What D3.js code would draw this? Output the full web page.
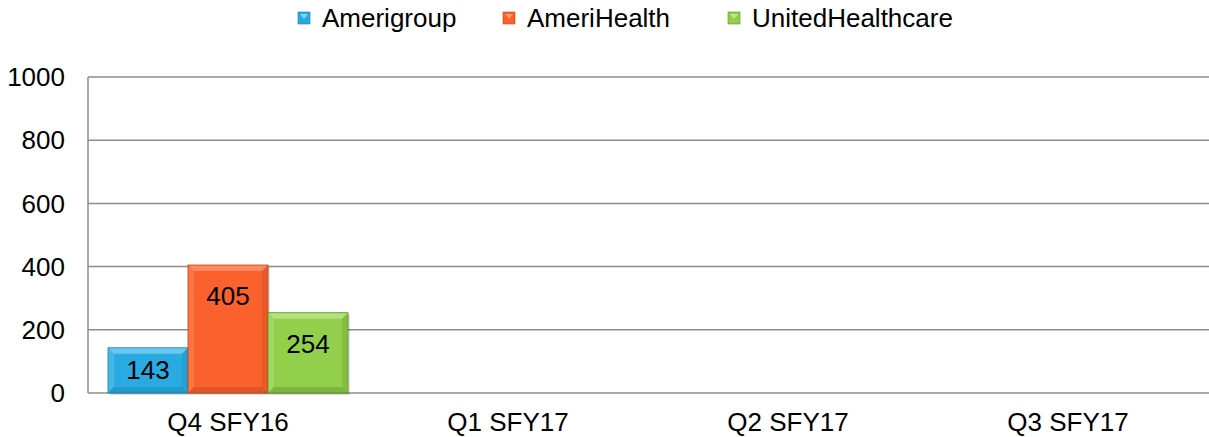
<!DOCTYPE html>
<html>
<head>
<meta charset="utf-8">
<script src="https://cdn.jsdelivr.net/npm/d3@7"></script>
<style>
  body { margin: 0; background: #fff; }
  text { font-family: "Liberation Sans", Arial, sans-serif; }
</style>
</head>
<body>
<svg id="chart" width="1209" height="437"></svg>
<script>
// data
var categories = ["Q4 SFY16", "Q1 SFY17", "Q2 SFY17", "Q3 SFY17"];
var seriesNames = ["Amerigroup", "AmeriHealth", "UnitedHealthcare"];
var amerigroup = [143, null, null, null];
var amerihealth = [405, null, null, null];
var united = [254, null, null, null];
var yTicks = [0, 200, 400, 600, 800, 1000];

var colors = ["#29ABE2", "#FA612C", "#92CF4A"];
var light = ["#7FD0F2", "#FF9A6E", "#C0E590"];
var dark = ["#1A7FAB", "#B8441D", "#5E8E2A"];

var seriesVals = [amerigroup, amerihealth, united];

var svg = d3.select("#chart");
var margin = {left: 88, right: 1, top: 77, bottom: 44};
var W = 1209, H = 437;
var fs = 26;

var x = d3.scaleBand().domain(categories)
    .range([margin.left, W - margin.right]).paddingInner(0).paddingOuter(0);
var y = d3.scaleLinear().domain([0, 1000]).range([H - margin.bottom, margin.top]);

// gridlines
svg.append("g").selectAll("line").data(yTicks).enter().append("line")
    .attr("x1", margin.left).attr("x2", W)
    .attr("y1", function(d) { return y(d); }).attr("y2", function(d) { return y(d); })
    .attr("stroke", "#8c8c8c").attr("stroke-width", 1.5);

// y axis line
svg.append("line")
    .attr("x1", margin.left).attr("x2", margin.left)
    .attr("y1", y(1000)).attr("y2", y(0))
    .attr("stroke", "#8c8c8c").attr("stroke-width", 1.5);

// y tick labels
svg.append("g").selectAll("text").data(yTicks).enter().append("text")
    .attr("x", 65).attr("y", function(d) { return y(d); })
    .attr("dy", "0.35em").attr("text-anchor", "end")
    .attr("font-size", fs).attr("fill", "#000")
    .text(function(d) { return d; });

// x labels
svg.append("g").selectAll("text").data(categories).enter().append("text")
    .attr("x", function(d) { return x(d) + x.bandwidth() / 2; })
    .attr("y", 422).attr("dy", "0.35em").attr("text-anchor", "middle")
    .attr("font-size", fs).attr("fill", "#000")
    .text(function(d) { return d; });

// group is 240 of 280 wide
var x1 = d3.scaleBand().domain(seriesNames).range([20, x.bandwidth() - 20]);

var bars = [];
categories.forEach(function(c, ci) {
  seriesNames.forEach(function(s, si) {
    var v = seriesVals[si][ci];
    if (v == null) return;
    bars.push({cat: c, si: si, v: v});
  });
});

var bev = 6;
var bg = svg.append("g");
bars.forEach(function(b) {
  var x0 = x(b.cat) + x1(seriesNames[b.si]);
  var bw = x1.bandwidth();
  var top = y(b.v), bot = y(0);
  var g = bg.append("g");
  // shadow
  g.append("rect").attr("x", x0 + 2).attr("y", top + 2).attr("width", bw).attr("height", bot - top)
    .attr("fill", "#000").attr("opacity", 0.12);
  g.append("rect").attr("x", x0).attr("y", top).attr("width", bw).attr("height", bot - top)
    .attr("fill", colors[b.si]);
  var pts = function(a) { return a.map(function(p) { return p.join(","); }).join(" "); };
  // top bevel
  g.append("polygon").attr("points", pts([[x0, top], [x0 + bw, top], [x0 + bw - bev, top + bev], [x0 + bev, top + bev]]))
    .attr("fill", light[b.si]).attr("opacity", 0.75);
  // left bevel
  g.append("polygon").attr("points", pts([[x0, top], [x0 + bev, top + bev], [x0 + bev, bot - bev], [x0, bot]]))
    .attr("fill", light[b.si]).attr("opacity", 0.35);
  // right bevel
  g.append("polygon").attr("points", pts([[x0 + bw, top], [x0 + bw - bev, top + bev], [x0 + bw - bev, bot - bev], [x0 + bw, bot]]))
    .attr("fill", dark[b.si]).attr("opacity", 0.25);
  // bottom bevel
  g.append("polygon").attr("points", pts([[x0, bot], [x0 + bev, bot - bev], [x0 + bw - bev, bot - bev], [x0 + bw, bot]]))
    .attr("fill", dark[b.si]).attr("opacity", 0.4);
  g.append("rect").attr("x", x0).attr("y", top).attr("width", bw).attr("height", bot - top)
    .attr("fill", "none").attr("stroke", dark[b.si]).attr("stroke-width", 0.8);
  // label
  var ly = Math.min(top + 31, (top + bot) / 2 - 1);
  g.append("text").attr("x", x0 + bw / 2).attr("y", ly).attr("dy", "0.35em")
    .attr("text-anchor", "middle").attr("font-size", fs).attr("fill", "#000")
    .text(b.v);
});

// legend
var legX = [298, 503, 728];
var leg = svg.append("g");
seriesNames.forEach(function(s, i) {
  var lx = legX[i], ly = 18;
  leg.append("rect").attr("x", lx).attr("y", ly - 6).attr("width", 12).attr("height", 12)
    .attr("fill", colors[i]).attr("stroke", dark[i]).attr("stroke-width", 0.6);
  leg.append("polygon").attr("points", [[lx + 2, ly - 4], [lx + 10, ly - 4], [lx + 6, ly + 1]].map(function(p) { return p.join(","); }).join(" "))
    .attr("fill", light[i]);
  leg.append("text").attr("x", lx + 24).attr("y", ly).attr("dy", "0.35em")
    .attr("font-size", fs).attr("fill", "#000").text(s);
});
</script>
</body>
</html>
